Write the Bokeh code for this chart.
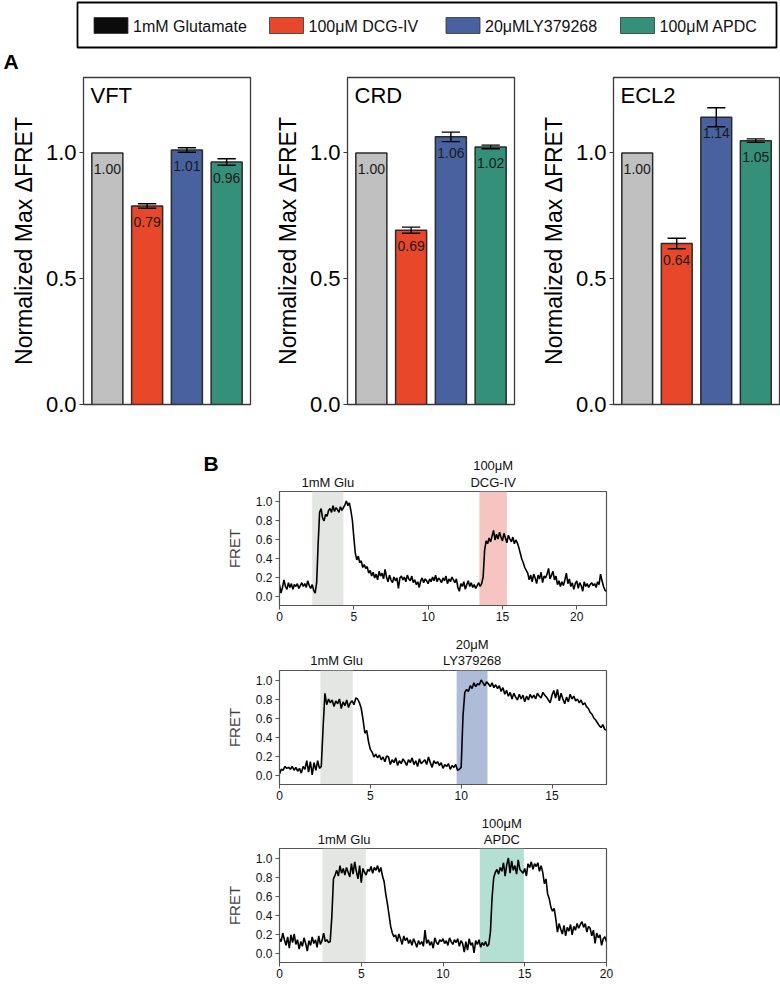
import numpy as np
from bokeh.plotting import figure
from bokeh.layouts import column, row
from bokeh.models import Range1d, FixedTicker, BoxAnnotation, PrintfTickFormatter
from bokeh.core.properties import value
from bokeh.embed import file_html
from bokeh.resources import INLINE

FONT = "Liberation Sans"

# ---------------- data ----------------
legend_labels = ["1mM Glutamate", "100\u03bcM DCG-IV", "20\u03bcMLY379268", "100\u03bcM APDC"]
legend_colors = ["#0b0b0b", "#e8472a", "#4862a0", "#35907a"]
bar_colors = ["#c0c0c0", "#e8472a", "#4862a0", "#35907a"]
bar_x = [1, 2, 3, 4]

panel_names = ["VFT", "CRD", "ECL2"]
vft_values = [1.00, 0.789, 1.012, 0.964]
vft_errors = [0.0, 0.009, 0.009, 0.013]
crd_values = [1.00, 0.693, 1.064, 1.024]
crd_errors = [0.0, 0.012, 0.019, 0.007]
ecl2_values = [1.00, 0.640, 1.142, 1.049]
ecl2_errors = [0.0, 0.021, 0.038, 0.007]
bar_ticks = [0.0, 0.5, 1.0]

trace_dt = 0.1
trace1 = [
    0.12, 0.03, 0.09, 0.17, 0.10, 0.07, 0.14, 0.09, 0.13, 0.07,
    0.12, 0.10, 0.13, 0.08, 0.11, 0.14, 0.10, 0.13, 0.09, 0.16,
    0.11, 0.08, 0.12, 0.06, 0.03, 0.14, 0.55, 0.88, 0.92, 0.82,
    0.79, 0.86, 0.84, 0.90, 0.92, 0.88, 0.95, 0.89, 0.93, 0.91,
    0.88, 0.94, 0.90, 0.93, 0.96, 1.00, 0.95, 0.98, 0.90, 0.80,
    0.62, 0.45, 0.38, 0.42, 0.35, 0.37, 0.30, 0.33, 0.29, 0.31,
    0.24, 0.27, 0.21, 0.25, 0.19, 0.23, 0.17, 0.26, 0.21, 0.24,
    0.18, 0.28, 0.20, 0.15, 0.22, 0.17, 0.14, 0.20, 0.16, 0.19,
    0.08, 0.19, 0.21, 0.17, 0.20, 0.15, 0.22, 0.18, 0.16, 0.21,
    0.14, 0.17, 0.12, 0.15, 0.09, 0.16, 0.19, 0.14, 0.18, 0.16,
    0.13, 0.18, 0.15, 0.20, 0.16, 0.22, 0.15, 0.19, 0.17, 0.14,
    0.19, 0.16, 0.21, 0.13, 0.18, 0.15, 0.20, 0.17, 0.14, 0.18,
    0.09, 0.05, 0.13, 0.10, 0.15, 0.07, 0.12, 0.16, 0.10, 0.14,
    0.09, 0.12, 0.08, 0.11, 0.14, 0.10, 0.13, 0.20, 0.48, 0.58,
    0.55, 0.61, 0.57, 0.63, 0.69, 0.59, 0.65, 0.60, 0.67, 0.62,
    0.58, 0.66, 0.61, 0.56, 0.64, 0.60, 0.57, 0.62, 0.55, 0.59,
    0.56, 0.51, 0.45, 0.39, 0.35, 0.30, 0.27, 0.24, 0.17, 0.22,
    0.15, 0.23, 0.19, 0.13, 0.22, 0.18, 0.25, 0.14, 0.21, 0.19,
    0.23, 0.29, 0.18, 0.22, 0.26, 0.17, 0.21, 0.12, 0.16, 0.10,
    0.15, 0.11, 0.17, 0.24, 0.13, 0.18, 0.10, 0.14, 0.07, 0.13,
    0.16, 0.08, 0.14, 0.11, 0.05, 0.15, 0.10, 0.13, 0.09, 0.12,
    0.14, 0.11, 0.13, 0.09, 0.15, 0.12, 0.23, 0.16, 0.10, 0.06,
    0.05,
]
trace2 = [
    0.01, 0.06, 0.05, 0.09, 0.07, 0.08, 0.06, 0.09, 0.05, 0.08,
    0.04, 0.07, 0.02, 0.09, 0.06, 0.15, 0.03, 0.14, 0.00, 0.13,
    0.05, 0.15, 0.07, 0.09, 0.50, 0.86, 0.74, 0.80, 0.76, 0.79,
    0.72, 0.78, 0.75, 0.80, 0.70, 0.77, 0.73, 0.79, 0.71, 0.76,
    0.78, 0.74, 0.81, 0.80, 0.76, 0.70, 0.58, 0.44, 0.47, 0.35,
    0.27, 0.24, 0.19, 0.22, 0.18, 0.21, 0.16, 0.19, 0.14, 0.20,
    0.19, 0.11, 0.16, 0.13, 0.18, 0.10, 0.15, 0.12, 0.17, 0.14,
    0.10, 0.16, 0.13, 0.18, 0.11, 0.15, 0.09, 0.17, 0.12, 0.14,
    0.16, 0.11, 0.19, 0.13, 0.08, 0.15, 0.12, 0.14, 0.10, 0.13,
    0.07, 0.11, 0.09, 0.12, 0.06, 0.10, 0.08, 0.11, 0.05, 0.06,
    0.08, 0.62, 0.87, 0.90, 0.88, 0.94, 0.91, 0.97, 0.93, 0.96,
    0.95, 1.00, 0.97, 0.94, 0.98, 0.96, 0.93, 0.97, 0.92, 0.95,
    0.91, 0.94, 0.88, 0.92, 0.85, 0.89, 0.83, 0.87, 0.80, 0.86,
    0.82, 0.79, 0.85, 0.80, 0.84, 0.77, 0.83, 0.79, 0.85, 0.81,
    0.84, 0.80, 0.86, 0.83, 0.81, 0.87, 0.84, 0.82, 0.79, 0.76,
    0.84, 0.89, 0.81, 0.90, 0.78, 0.86, 0.80, 0.75, 0.82, 0.77,
    0.85, 0.80, 0.83, 0.78, 0.80, 0.76, 0.79, 0.74, 0.76, 0.72,
    0.70, 0.66, 0.64, 0.60, 0.58, 0.55, 0.52, 0.50, 0.53, 0.48,
    0.47,
]
trace3 = [
    0.15, 0.12, 0.21, 0.14, 0.08, 0.17, 0.05, 0.19, 0.11, 0.20,
    0.09, 0.14, 0.04, 0.12, 0.07, 0.16, 0.10, 0.02, 0.13, 0.08,
    0.17, 0.10, 0.14, 0.06, 0.18, 0.09, 0.13, 0.21, 0.12, 0.14,
    0.11, 0.12, 0.38, 0.78, 0.82, 0.87, 0.81, 0.92, 0.84, 0.89,
    0.82, 0.90, 0.85, 0.80, 0.94, 0.83, 0.96, 0.86, 0.78, 0.92,
    0.74, 0.89, 0.85, 0.82, 0.88, 0.86, 0.91, 0.84, 0.90, 0.87,
    0.92, 0.85, 0.90, 0.81, 0.75, 0.62, 0.52, 0.40, 0.28, 0.21,
    0.17, 0.19, 0.12, 0.20, 0.15, 0.09, 0.18, 0.13, 0.16, 0.10,
    0.14, 0.08, 0.15, 0.11, 0.06, 0.13, 0.09, 0.12, 0.07, 0.24,
    0.10, 0.14, 0.08, 0.12, 0.05, 0.16, 0.11, 0.09, 0.14, 0.12,
    0.15, 0.10, 0.13, 0.08, 0.16, 0.12, 0.09, 0.14, 0.11, 0.15,
    0.07, 0.13, 0.10, 0.01, 0.12, 0.03, 0.15, 0.08, 0.11, 0.00,
    0.13, 0.09, 0.14, 0.06, 0.11, 0.08, 0.12, 0.07, 0.09, 0.22,
    0.58, 0.79, 0.85, 0.88, 0.83, 0.90, 0.86, 0.95, 0.81, 0.93,
    1.00, 0.84, 0.97, 0.87, 0.92, 0.83, 0.98, 0.88, 0.86, 0.84,
    0.89, 0.81, 0.94, 0.90, 0.96, 0.88, 0.94, 0.91, 0.95, 0.86,
    0.92, 0.85, 0.73, 0.78, 0.62, 0.57, 0.48, 0.44, 0.47, 0.36,
    0.22, 0.31, 0.25, 0.20, 0.29, 0.18, 0.27, 0.23, 0.30, 0.19,
    0.28, 0.24, 0.31, 0.26, 0.30, 0.33, 0.27, 0.31, 0.22, 0.28,
    0.26, 0.18, 0.24, 0.10, 0.21, 0.16, 0.19, 0.08, 0.15, 0.17,
    0.12,
]
trace1_xmax, trace2_xmax, trace3_xmax = 22, 18, 20
trace1_windows = [(2.2, 4.3), (13.45, 15.3)]
trace2_windows = [(2.25, 4.03), (9.75, 11.45)]
trace3_windows = [(2.63, 5.28), (12.25, 14.95)]
trace1_labels = [["1mM Glu"], ["100\u03bcM", "DCG-IV"]]
trace2_labels = [["1mM Glu"], ["20\u03bcM", "LY379268"]]
trace3_labels = [["1mM Glu"], ["100\u03bcM", "APDC"]]
trace1_shades = ["#e4e6e4", "#f6c4c1"]
trace2_shades = ["#e4e6e4", "#afbcd7"]
trace3_shades = ["#e4e6e4", "#b4e0d3"]
trace_yticks = [0.0, 0.2, 0.4, 0.6, 0.8, 1.0]
trace_xticks = [0, 5, 10, 15, 20]


def blank_canvas(w, h, x_range=None):
    c = figure(width=w, height=h, x_range=x_range if x_range is not None else Range1d(0, w),
               y_range=Range1d(h, 0), min_border=0, x_axis_type=None, y_axis_type=None,
               output_backend="svg", toolbar_location=None)
    c.grid.visible = False
    c.outline_line_color = None
    return c


# ---------------- legend strip ----------------
LW, LH = 780, 75
L = blank_canvas(LW, LH)
L.quad(left=[77], right=[776], top=[2], bottom=[47], fill_color=None,
       line_color="black", line_width=1.8)
legend_x = [93.5, 269, 445.5, 620]
L.quad(left=legend_x, right=[x + 34 for x in legend_x], top=[17] * 4, bottom=[33] * 4,
       fill_color=legend_colors, line_color="#333333", line_width=0.8)
L.text(x=[x + 39 for x in legend_x], y=[25.5] * 4, text=legend_labels,
       text_font=value(FONT), text_font_size="16px", text_baseline="middle",
       text_align="left", text_color="#111111")
L.text(x=[3], y=[61], text=["A"], text_font=value(FONT), text_font_size="21px",
       text_font_style="bold", text_baseline="middle", text_color="black")


# ---------------- bar panels ----------------
def bar_panel(name, vals, errs, left_b, right_b, fw):
    p = figure(frame_width=fw, frame_height=327, min_border_left=left_b,
               min_border_right=right_b, min_border_top=2, min_border_bottom=26,
               x_range=Range1d(0.4, 4.6), y_range=Range1d(0, 1.3),
               output_backend="svg", toolbar_location=None)
    p.grid.visible = False
    p.xaxis.visible = False
    p.outline_line_color = "#3a3a3a"
    p.outline_line_width = 1.3
    p.vbar(x=bar_x, top=vals, bottom=0, width=0.78, fill_color=bar_colors,
           line_color="#2a2a2a", line_width=1.5)
    eb = [(x, v, e) for x, v, e in zip(bar_x, vals, errs) if e > 0]
    ex = [a for a, _, _ in eb]
    lo = [v - e for _, v, e in eb]
    hi = [v + e for _, v, e in eb]
    p.segment(x0=ex, x1=ex, y0=lo, y1=hi, line_color="black", line_width=1.4)
    cap = 0.23
    p.segment(x0=[x - cap for x in ex], x1=[x + cap for x in ex], y0=lo, y1=lo,
              line_color="black", line_width=1.4)
    p.segment(x0=[x - cap for x in ex], x1=[x + cap for x in ex], y0=hi, y1=hi,
              line_color="black", line_width=1.4)
    p.text(x=bar_x, y=vals, text=[f"{v:.2f}" for v in vals], y_offset=16,
           text_align="center", text_baseline="middle", text_font=value(FONT),
           text_font_size="14px", text_color="#1a1a1a")
    p.text(x=[0.4], y=[1.3], text=[name], x_offset=7, y_offset=18,
           text_align="left", text_baseline="middle", text_font=value(FONT),
           text_font_size="22px", text_color="black")
    ax = p.yaxis[0]
    ax.ticker = FixedTicker(ticks=bar_ticks)
    ax.formatter = PrintfTickFormatter(format="%.1f")
    ax.major_label_text_font = FONT
    ax.major_label_text_font_size = "22px"
    ax.major_label_text_color = "black"
    ax.major_label_standoff = 3
    ax.major_tick_out = 4
    ax.major_tick_in = 0
    ax.minor_tick_out = 0
    ax.minor_tick_in = 0
    ax.axis_line_color = "#3a3a3a"
    ax.major_tick_line_color = "#3a3a3a"
    ax.axis_label = "Normalized Max \u0394FRET"
    ax.axis_label_text_font = FONT
    ax.axis_label_text_font_size = "23px"
    ax.axis_label_text_font_style = "normal"
    ax.axis_label_text_color = "black"
    ax.axis_label_standoff = 6
    return p


pA1 = bar_panel(panel_names[0], vft_values, vft_errors, 83, 20, 167)
pA2 = bar_panel(panel_names[1], crd_values, crd_errors, 77, 22, 167)
pA3 = bar_panel(panel_names[2], ecl2_values, ecl2_errors, 77, 1, 166)


# ---------------- trace panels ----------------
FH, FW, BL, BR = 114, 327, 279, 10

def trace_panel(vals, xmax, windows, shades, bottom_b):
    p = figure(frame_width=FW, frame_height=FH, min_border_left=BL, min_border_right=BR,
               min_border_top=2, min_border_bottom=bottom_b,
               x_range=Range1d(0, xmax), y_range=Range1d(-0.1, 1.1),
               output_backend="svg", toolbar_location=None)
    p.grid.visible = False
    p.outline_line_color = "#555555"
    p.outline_line_width = 1.2
    for (a, b), c in zip(windows, shades):
        p.add_layout(BoxAnnotation(left=a, right=b, fill_color=c, fill_alpha=1.0,
                                   line_alpha=0, level="underlay"))
    t = np.arange(len(vals)) * trace_dt
    p.line(t, vals, line_color="black", line_width=1.6)
    for ax in (p.xaxis[0], p.yaxis[0]):
        ax.major_label_text_font = FONT
        ax.major_label_text_font_size = "12px"
        ax.major_label_text_color = "#111111"
        ax.major_tick_out = 4
        ax.major_tick_in = 0
        ax.minor_tick_out = 0
        ax.minor_tick_in = 0
        ax.axis_line_color = "#555555"
        ax.major_tick_line_color = "#555555"
        ax.major_label_standoff = 3
    bx = p.below[0]
    bx.ticker = FixedTicker(ticks=trace_xticks)
    bx.major_label_standoff = 2
    ly = p.left[0]
    ly.ticker = FixedTicker(ticks=trace_yticks)
    ly.formatter = PrintfTickFormatter(format="%.1f")
    ly.axis_label = "FRET"
    ly.axis_label_text_font = FONT
    ly.axis_label_text_font_size = "15px"
    ly.axis_label_text_font_style = "normal"
    ly.axis_label_standoff = 10
    return p


def label_strip(xmax, windows, labels, height, near_y, far_y, tag=None, tag_y=None):
    # strip above a trace, whose x scale matches the trace's frame
    ppu = FW / xmax
    W = BL + FW + BR
    s = blank_canvas(W, height, x_range=Range1d(-BL / ppu, (W - BL) / ppu))
    centers = [(a + b) / 2 for a, b in windows]
    xs, ys, txt = [], [], []
    for c, lines in zip(centers, labels):
        xs.append(c); ys.append(near_y); txt.append(lines[-1])
        if len(lines) > 1:
            xs.append(c); ys.append(far_y); txt.append(lines[0])
    s.text(x=xs, y=ys, text=txt, text_align="center", text_baseline="middle",
           text_font=value(FONT), text_font_size="13px", text_color="#111111")
    if tag:
        s.text(x=[(203 - BL) / ppu], y=[tag_y], text=[tag], text_align="left",
               text_baseline="middle", text_font=value(FONT), text_font_size="21px",
               text_font_style="bold", text_color="black")
    return s


S1 = label_strip(trace1_xmax, trace1_windows, trace1_labels, 59, 51.5, 35, tag="B", tag_y=32.5)
pB1 = trace_panel(trace1, trace1_xmax, trace1_windows, trace1_shades, 23)
S2 = label_strip(trace2_xmax, trace2_windows, trace2_labels, 40, 32, 16)
pB2 = trace_panel(trace2, trace2_xmax, trace2_windows, trace2_shades, 22)
S3 = label_strip(trace3_xmax, trace3_windows, trace3_labels, 40, 32.5, 17)
pB3 = trace_panel(trace3, trace3_xmax, trace3_windows, trace3_shades, 22)

layout = column(row(L), row(pA1, pA2, pA3), row(S1), row(pB1), row(S2), row(pB2),
                row(S3), row(pB3))

with open("out.html", "w") as f:
    f.write(file_html(layout, INLINE))
